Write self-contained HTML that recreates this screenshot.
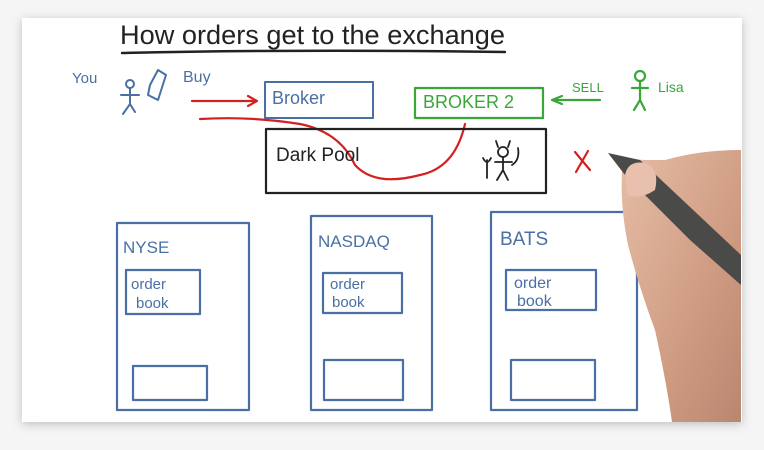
<!DOCTYPE html>
<html><head><meta charset="utf-8"><style>
html,body{margin:0;padding:0;background:#f4f4f4;}
svg{display:block}
text{font-family:"Liberation Sans",sans-serif;}
</style></head><body>
<svg width="764" height="450" viewBox="0 0 764 450" xmlns="http://www.w3.org/2000/svg">
<defs><filter id="sh" x="-5%" y="-5%" width="110%" height="115%"><feGaussianBlur stdDeviation="5"/></filter>
<linearGradient id="hg" x1="0" y1="0" x2="1" y2="1"><stop offset="0" stop-color="#e6bda6"/><stop offset="0.6" stop-color="#cf9c82"/><stop offset="1" stop-color="#b98670"/></linearGradient></defs>
<rect x="0" y="0" width="764" height="450" fill="#f5f5f5"/>
<rect x="22" y="20" width="720" height="404" fill="#999" filter="url(#sh)" opacity="0.6"/>
<rect x="22" y="18" width="720" height="404" fill="#fff"/>
<g fill="none" stroke-linecap="round" stroke-linejoin="round">
<text x="120" y="44" font-size="27" fill="#222" textLength="385" lengthAdjust="spacingAndGlyphs">How orders get to the exchange</text>
<path d="M122 53 Q300 49 505 52" stroke="#222" stroke-width="2.5"/>
<text x="72" y="83" font-size="15" fill="#4a6fa5">You</text>
<g stroke="#4a6fa5" stroke-width="2"><circle cx="130" cy="84" r="4"/><path d="M130 88 V104 M121 95 H139 M130 104 L123 114 M130 104 L135 112"/><path d="M150 85 L158 70 L166 75 L158 100 L148 95 Z"/>
<rect x="265" y="82" width="108" height="36"/></g>
<text x="183" y="82" font-size="16" fill="#4a6fa5">Buy</text>
<text x="272" y="104" font-size="18" fill="#4a6fa5">Broker</text>
<g stroke="#3aa63a" stroke-width="2.2"><rect x="415" y="88" width="128" height="30"/><path d="M600 100 H556 M562 96 L552 100 L562 104"/>
<circle cx="640" cy="76" r="5"/><path d="M640 81 V100 M632 88 H648 M640 100 L634 110 M640 100 L645 110"/></g>
<text x="423" y="108" font-size="18" fill="#3aa63a">BROKER 2</text>
<text x="572" y="92" font-size="13" fill="#3aa63a">SELL</text>
<text x="658" y="92" font-size="14" fill="#3aa63a">Lisa</text>
<g stroke="#d42020" stroke-width="2.2"><path d="M192 101 H255 M248 96 L257 101 L248 106"/>
<path d="M200 119 Q250 116 300 124 Q340 132 355 165 Q375 187 420 175 Q455 168 465 124"/>
<path d="M575 152 L590 170 M588 151 L576 172"/></g>
<rect x="266" y="129" width="280" height="64" stroke="#222" stroke-width="2.2"/>
<text x="276" y="161" font-size="19" fill="#222">Dark Pool</text>
<g stroke="#222" stroke-width="1.8"><circle cx="503" cy="152" r="5"/><path d="M498 147 L496 141 M508 147 L510 141 M503 157 V170 M495 162 H512 M503 170 L497 180 M503 170 L508 180 M512 165 Q520 160 518 148 M487 160 V178 M483 158 Q487 166 491 158"/></g>
<g stroke="#4a6fa5" stroke-width="2.2">
<rect x="117" y="223" width="132" height="187"/><rect x="126" y="270" width="74" height="44"/><rect x="133" y="366" width="74" height="34"/>
<rect x="311" y="216" width="121" height="194"/><rect x="323" y="273" width="79" height="40"/><rect x="324" y="360" width="79" height="40"/>
<rect x="491" y="212" width="146" height="198"/><rect x="506" y="270" width="90" height="40"/><rect x="511" y="360" width="84" height="40"/>
</g>
<text x="123" y="253" font-size="17" fill="#4a6fa5">NYSE</text>
<text x="131" y="289" font-size="15" fill="#4a6fa5">order</text><text x="136" y="308" font-size="15" fill="#4a6fa5">book</text>
<text x="318" y="247" font-size="17" fill="#4a6fa5">NASDAQ</text>
<text x="330" y="289" font-size="15" fill="#4a6fa5">order</text><text x="332" y="307" font-size="15" fill="#4a6fa5">book</text>
<text x="500" y="245" font-size="19" fill="#4a6fa5">BATS</text>
<text x="514" y="288" font-size="16" fill="#4a6fa5">order</text><text x="517" y="306" font-size="16" fill="#4a6fa5">book</text>
</g>
<path d="M622 172 Q628 158 645 160 L665 160 Q700 150 741 150 L741 422 L672 422 Q666 380 655 330 Q640 290 628 245 Q620 205 622 172 Z" fill="url(#hg)"/>
<path d="M608 153 L640 160 L741 255 L741 285 L690 240 L625 175 Z" fill="#4a4a48"/>
<path d="M625 175 Q628 160 645 163 Q660 168 655 190 Q640 200 628 195 Z" fill="#e8c0ad"/>
</svg>
</body></html>
